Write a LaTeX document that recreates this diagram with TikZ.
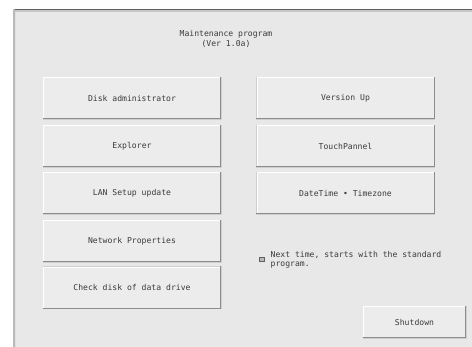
\documentclass[tikz,border=0pt]{standalone}
\usepackage{fontspec}
\setmonofont{DejaVu Sans Mono}
\definecolor{winbg}{HTML}{E8E8E8}
\definecolor{btnfill}{HTML}{ECECEC}
\definecolor{btnshadow}{HTML}{8C8C8C}
\definecolor{btnedge}{HTML}{CFCFCF}
\definecolor{txt}{HTML}{3A3A3A}
\tikzset{
  btn/.style={rectangle, fill=btnfill, draw=btnedge, line width=0.6pt,
    minimum width=178pt, minimum height=42pt, inner sep=0pt,
    font=\ttfamily\fontsize{8.1}{9}\selectfont, text=txt},
  shadowline/.style={draw=btnshadow, line width=1.3pt},
  lightline/.style={draw=white, line width=0.8pt},
  lbl/.style={font=\ttfamily\fontsize{8.1}{9.5}\selectfont, text=txt, inner sep=0pt}
}
\begin{document}
\begin{tikzpicture}[x=1pt,y=-1pt]
\useasboundingbox (0,0) rectangle (472,347);
\fill[white] (0,0) rectangle (472,347);
% window frame
\fill[winbg] (13,9) rectangle (472,347);
\draw[color=gray!75!black, line width=1pt] (13,9.5) -- (472,9.5);
\draw[color=gray!45, line width=2pt] (14,11.5) -- (472,11.5);
\draw[color=gray!55, line width=1.5pt] (13.75,9) -- (13.75,347);
\draw[color=gray!25, line width=1pt] (15.5,12) -- (15.5,347);
% title
\node[lbl, align=center] (title) at (226,39) {Maintenance program\\(Ver 1.0a)};
% buttons
\node[btn] (disk) at (132,98) {Disk administrator};
\node[btn] (expl) at (132,146) {Explorer};
\node[btn] (lan) at (132,193) {LAN Setup update};
\node[btn] (net) at (132,241) {Network Properties};
\node[btn] (chk) at (132,287.5) {Check disk of data drive};
\node[btn] (ver) at (345.5,98) {Version Up};
\node[btn] (touch) at (345.5,146) {TouchPannel};
\node[btn] (date) at (345.5,193) {DateTime • Timezone};
\node[btn, minimum width=103pt, minimum height=32pt] (shut) at (414.5,322) {Shutdown};
\foreach \b in {disk,expl,lan,net,chk,ver,touch,date,shut}{
  \draw[lightline] ([xshift=1pt]\b.south west) -- ([xshift=1pt,yshift=-1pt]\b.north west) -- ([yshift=-1pt]\b.north east);
  \draw[shadowline] ([yshift=0.6pt]\b.south west) -- ([xshift=-0.6pt,yshift=0.6pt]\b.south east) -- ([xshift=-0.6pt]\b.north east);
}
% checkbox
\node[rectangle, draw=gray!75!black, fill=gray!55, line width=0.5pt, minimum size=4.5pt, inner sep=0pt] (cb) at (261.5,259.5) {};
\node[lbl, anchor=north west, align=left] (cbtext) at (270.5,251) {Next time, starts with the standard\\program.};
\end{tikzpicture}
\end{document}
